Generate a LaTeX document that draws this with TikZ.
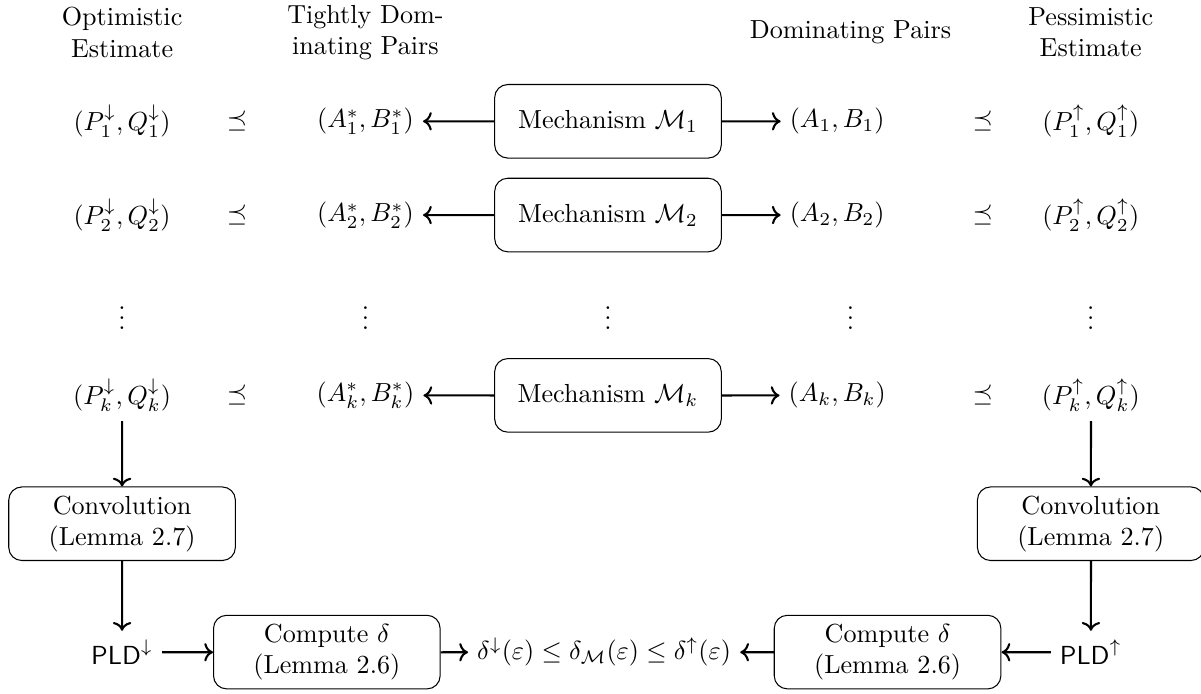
\documentclass[tikz,border=0pt]{standalone}
\usepackage{amsmath, amssymb}
\usepackage{tikz}
\usetikzlibrary{arrows.meta, positioning, calc}

\tikzset{
  procbox/.style={draw, rounded corners=5pt, minimum width=3.05cm, minimum height=0.99cm, align=center, inner sep=3pt},
  flow/.style={thick, ->},
}

\begin{document}
\begin{tikzpicture}[scale=1.06]
  \useasboundingbox (0, 0) rectangle (15.25, -8.80);

  % Column headers
  \node[align=center] (hopt) at (1.55, -0.41) {Optimistic\\Estimate};
  \node[align=center] (htight) at (4.64, -0.41) {Tightly Dom-\\inating Pairs};
  \node (hdom) at (10.80, -0.41) {Dominating Pairs};
  \node[align=center] (hpess) at (13.85, -0.41) {Pessimistic\\Estimate};

  % Mechanism 1
  \node (opt1) at (1.55, -1.54) {$(P_1^{\downarrow}, Q_1^{\downarrow})$};
  \node (lrel1) at (3.01, -1.54) {$\preceq$};
  \node (tdp1) at (4.64, -1.54) {$(A_1^*, B_1^*)$};
  \node[procbox] (mech1) at (7.72, -1.54) {Mechanism $\mathcal{M}_1$};
  \node (dp1) at (10.63, -1.54) {$(A_1, B_1)$};
  \node (rrel1) at (12.48, -1.54) {$\preceq$};
  \node (pess1) at (13.85, -1.54) {$(P_1^{\uparrow}, Q_1^{\uparrow})$};
  \draw[flow] (mech1) -- (tdp1);
  \draw[flow] (mech1) -- (dp1);

  % Mechanism 2
  \node (opt2) at (1.55, -2.73) {$(P_2^{\downarrow}, Q_2^{\downarrow})$};
  \node (lrel2) at (3.01, -2.73) {$\preceq$};
  \node (tdp2) at (4.64, -2.73) {$(A_2^*, B_2^*)$};
  \node[procbox] (mech2) at (7.72, -2.73) {Mechanism $\mathcal{M}_2$};
  \node (dp2) at (10.63, -2.73) {$(A_2, B_2)$};
  \node (rrel2) at (12.48, -2.73) {$\preceq$};
  \node (pess2) at (13.85, -2.73) {$(P_2^{\uparrow}, Q_2^{\uparrow})$};
  \draw[flow] (mech2) -- (tdp2);
  \draw[flow] (mech2) -- (dp2);

  % Dots
  \node (dots1) at (1.55, -3.94) {$\vdots$};
  \node (dots2) at (4.64, -3.94) {$\vdots$};
  \node (dots3) at (7.72, -3.94) {$\vdots$};
  \node (dots4) at (10.80, -3.94) {$\vdots$};
  \node (dots5) at (13.85, -3.94) {$\vdots$};

  % Mechanism k
  \node (optk) at (1.55, -5.02) {$(P_k^{\downarrow}, Q_k^{\downarrow})$};
  \node (lrelk) at (3.01, -5.02) {$\preceq$};
  \node (tdpk) at (4.64, -5.02) {$(A_k^*, B_k^*)$};
  \node[procbox] (mechk) at (7.72, -5.02) {Mechanism $\mathcal{M}_k$};
  \node (dpk) at (10.63, -5.02) {$(A_k, B_k)$};
  \node (rrelk) at (12.48, -5.02) {$\preceq$};
  \node (pessk) at (13.85, -5.02) {$(P_k^{\uparrow}, Q_k^{\uparrow})$};
  \draw[flow] (mechk) -- (tdpk);
  \draw[flow] (mechk) -- (dpk);

  % Convolution
  \node[procbox] (convl) at (1.55, -6.65) {Convolution\\(Lemma 2.7)};
  \node[procbox] (convr) at (13.85, -6.65) {Convolution\\(Lemma 2.7)};
  \draw[flow] (optk) -- (convl);
  \draw[flow] (pessk) -- (convr);

  % Privacy loss distributions and delta
  \node (pldl) at (1.55, -8.28) {$\mathsf{PLD}^{\downarrow}$};
  \node (pldr) at (13.85, -8.28) {$\mathsf{PLD}^{\uparrow}$};
  \node[procbox] (compl) at (4.15, -8.28) {Compute $\delta$\\(Lemma 2.6)};
  \node[procbox] (compr) at (11.27, -8.28) {Compute $\delta$\\(Lemma 2.6)};
  \node (res) at (7.67, -8.28) {$\delta^{\downarrow}(\varepsilon) \le \delta_{\mathcal{M}}(\varepsilon) \le \delta^{\uparrow}(\varepsilon)$};
  \draw[flow] (convl) -- (pldl);
  \draw[flow] (convr) -- (pldr);
  \draw[flow] (pldl) -- (compl);
  \draw[flow] (pldr) -- (compr);
  \draw[flow] (compl) -- (res);
  \draw[flow] (compr) -- (res);
\end{tikzpicture}
\end{document}
